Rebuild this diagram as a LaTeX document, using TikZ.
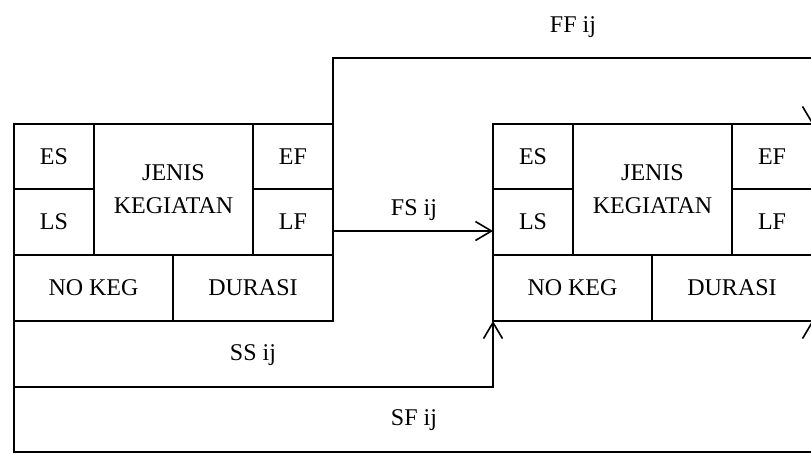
\documentclass[tikz,border=0pt]{standalone}
\usepackage{fontspec}
\setmainfont{Liberation Serif}
\usetikzlibrary{arrows.meta}
\begin{document}
\begin{tikzpicture}[x=1pt,y=-1pt,
  cell/.style={draw=black,line width=2.7pt,rectangle,inner sep=0pt,outer sep=0pt,
    font=\fontsize{24}{33}\selectfont,align=center},
  conn/.style={line width=2.2pt},
  arr/.style={-{Straight Barb[length=16pt,width=19pt,line width=1.6pt]}},
  lbl/.style={font=\fontsize{24}{33}\selectfont,inner sep=0pt}]
\clip (0,0) rectangle (811,453);
\fill[white] (0,0) rectangle (811,453);
% left box
\node[cell,minimum width=80pt,minimum height=65pt] (ES1) at (54,156.5) {ES};
\node[cell,minimum width=80pt,minimum height=66pt] (LS1) at (54,222) {LS};
\node[cell,minimum width=159pt,minimum height=131pt] (JK1) at (173.5,189.5) {JENIS\\KEGIATAN};
\node[cell,minimum width=80pt,minimum height=65pt] (EF1) at (293,156.5) {EF};
\node[cell,minimum width=80pt,minimum height=66pt] (LF1) at (293,222) {LF};
\node[cell,minimum width=159pt,minimum height=66pt] (NO1) at (93.5,288) {NO KEG};
\node[cell,minimum width=160pt,minimum height=66pt] (DU1) at (253,288) {DURASI};
% right box
\node[cell,minimum width=80pt,minimum height=65pt] (ES2) at (533,156.5) {ES};
\node[cell,minimum width=80pt,minimum height=66pt] (LS2) at (533,222) {LS};
\node[cell,minimum width=159pt,minimum height=131pt] (JK2) at (652.5,189.5) {JENIS\\KEGIATAN};
\node[cell,minimum width=80pt,minimum height=65pt] (EF2) at (772,156.5) {EF};
\node[cell,minimum width=80pt,minimum height=66pt] (LF2) at (772,222) {LF};
\node[cell,minimum width=159pt,minimum height=66pt] (NO2) at (572.5,288) {NO KEG};
\node[cell,minimum width=160pt,minimum height=66pt] (DU2) at (732,288) {DURASI};
% routing points
\coordinate (ff) at (573,58);
\coordinate (ss) at (253,387);
\coordinate (sf) at (414,452);
% connectors
\draw[conn,arr] (EF1.north east) |- (ff) -| (EF2.north east);
\draw[conn,arr] (LF1.east |- 0,231) -- (LS2.west |- 0,231);
\draw[conn,arr] (NO1.south west) |- (ss) -| (NO2.south west);
\draw[conn,arr] (NO1.south west) |- (sf) -| (DU2.south east);
% labels
\node[lbl] (lff) at (573,27) {FF ij};
\node[lbl] (lfs) at (414,210) {FS ij};
\node[lbl] (lss) at (253,355) {SS ij};
\node[lbl] (lsf) at (414,420) {SF ij};
\end{tikzpicture}
\end{document}
